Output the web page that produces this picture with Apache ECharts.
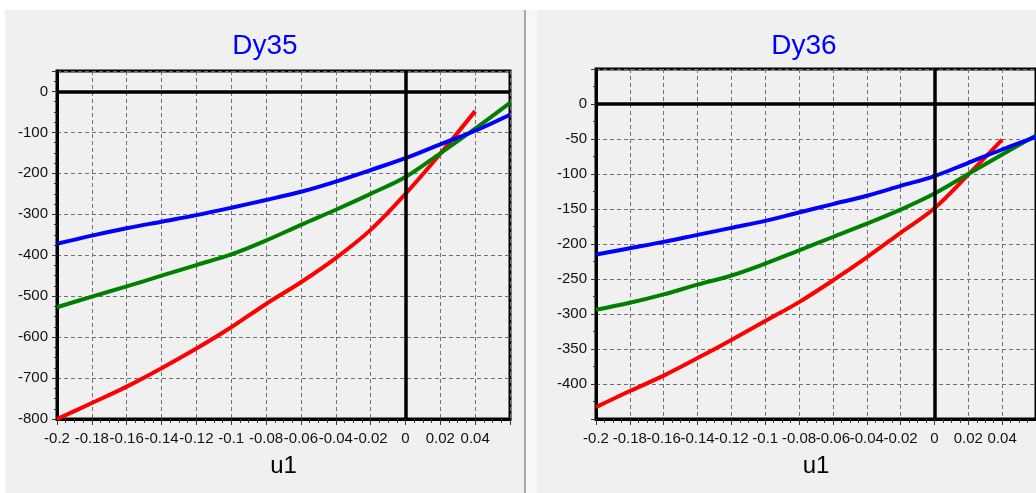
<!DOCTYPE html>
<html>
<head>
<meta charset="utf-8">
<script src="https://cdn.jsdelivr.net/npm/echarts@6/dist/echarts.min.js"></script>
<style>
html,body{margin:0;padding:0;background:#fff;}
#c{width:1036px;height:493px;}
</style>
</head>
<body>
<div id="c"></div>
<script>
// ---- data ----
const titles = ['Dy35', 'Dy36'];
const xName = 'u1';
const u1 = [-0.2, -0.18, -0.16, -0.14, -0.12, -0.1, -0.08, -0.06, -0.04, -0.02, 0, 0.02, 0.04, 0.06];

const dy35Red   = [-800, -761, -721, -676, -628, -576, -519, -466, -407, -338, -250, -152, -48, null];
const dy35Green = [-527, -501, -476, -450, -424, -398, -364, -326, -289, -250, -209, -151, -91, -28];
const dy35Blue  = [-372, -352, -334, -318, -302, -284, -265, -245, -220, -192, -163, -129, -96, -57];

const dy36Red   = [-433, -410, -388, -363, -337, -310, -283, -252, -219, -184, -149, -101, -51, null];
const dy36Green = [-294, -284, -272, -258, -245, -228, -209, -190, -171, -151, -128, -100, -72, -45];
const dy36Blue  = [-215, -206, -197, -187, -177, -167, -155, -143, -131, -117, -103, -84, -65, -47];

const yRange35 = {min: -800, max: 50, interval: 100};
const yRange36 = {min: -450, max: 50, interval: 50};
const xRange = {min: -0.2, max: 0.06, interval: 0.02};

const colors = {red: '#ff0000', green: '#008000', blue: '#0000ff'};

// ---- chart ----
const font = 'Arial, "Liberation Sans", sans-serif';
function pairs(ys){ return u1.map((x,i)=> ys[i]==null ? null : [x, ys[i]]).filter(p=>p); }

function xAxisCfg(gi){
  return {
    gridIndex: gi, type: 'value', min: xRange.min, max: xRange.max, interval: xRange.interval,
    name: xName, nameLocation: 'middle', nameGap: 35,
    nameTextStyle: {fontFamily: font, fontSize: 24, color: '#000'},
    axisLine: {show: true, onZero: false, lineStyle: {color: '#000', width: 3}},
    axisTick: {show: true, length: 6, lineStyle: {color: '#333'}},
    minorTick: {show: true, splitNumber: 4, length: 4, lineStyle: {color: '#333'}},
    axisLabel: {fontFamily: font, fontSize: 15, color: '#111', margin: 12, showMaxLabel: false,
      formatter: v => String(parseFloat(v.toFixed(2)))},
    splitLine: {show: true, lineStyle: {color: '#707070', width: 1, type: [4, 3]}}
  };
}
function yAxisCfg(gi, r, minor, hideMin){
  return {
    gridIndex: gi, type: 'value', min: r.min, max: r.max, interval: r.interval,
    axisLine: {show: true, onZero: false, lineStyle: {color: '#000', width: 3}},
    axisTick: {show: true, length: 5, lineStyle: {color: '#333'}},
    minorTick: {show: true, splitNumber: minor, length: 3, lineStyle: {color: '#333'}},
    axisLabel: {fontFamily: font, fontSize: 15, color: '#111', margin: 9,
      showMaxLabel: false, showMinLabel: !hideMin},
    splitLine: {show: true, lineStyle: {color: '#707070', width: 1, type: [4, 3]}}
  };
}
function lineSeries(gi, ys, color){
  return {type: 'line', xAxisIndex: gi, yAxisIndex: gi, data: pairs(ys), showSymbol: false,
    symbol: 'none', smooth: 0.35, lineStyle: {color: color, width: 4}, itemStyle: {color: color}, z: 3, silent: true,
    animation: false};
}
function zeroSeries(gi){
  return {type: 'line', xAxisIndex: gi, yAxisIndex: gi, data: [], z: 2, silent: true, animation: false,
    markLine: {silent: true, symbol: 'none', animation: false, label: {show: false},
      lineStyle: {color: '#000', width: 3.5, type: 'solid'},
      data: [{xAxis: 0}, {yAxis: 0}]}};
}

const chart = echarts.init(document.getElementById('c'), null, {renderer: 'canvas'});
chart.setOption({
  animation: false,
  backgroundColor: '#ffffff',
  graphic: [
    {type: 'rect', shape: {x: 5, y: 10, width: 519, height: 483}, style: {fill: '#f0f0f0'}, z: -10, silent: true},
    {type: 'rect', shape: {x: 524, y: 10, width: 2, height: 483}, style: {fill: '#a8a8a8'}, z: -10, silent: true},
    {type: 'rect', shape: {x: 526, y: 10, width: 11, height: 483}, style: {fill: '#f7f7f7'}, z: -10, silent: true},
    {type: 'rect', shape: {x: 537, y: 10, width: 499, height: 483}, style: {fill: '#f0f0f0'}, z: -10, silent: true}
  ],
  title: [
    {text: titles[0], left: 260, top: 27, textAlign: 'center',
      textStyle: {fontFamily: font, fontSize: 28, fontWeight: 'normal', color: '#0000ff'}},
    {text: titles[1], left: 799, top: 27, textAlign: 'center',
      textStyle: {fontFamily: font, fontSize: 28, fontWeight: 'normal', color: '#0000ff'}}
  ],
  grid: [
    {left: 57, top: 71, width: 453, height: 348, show: true, backgroundColor: '#f0f0f0', borderColor: '#000', borderWidth: 3},
    {left: 596, top: 69, width: 452, height: 350, show: true, backgroundColor: '#f0f0f0', borderColor: '#000', borderWidth: 3}
  ],
  xAxis: [xAxisCfg(0), xAxisCfg(1)],
  yAxis: [yAxisCfg(0, yRange35, 4, false), yAxisCfg(1, yRange36, 2, true)],
  series: [
    zeroSeries(0),
    lineSeries(0, dy35Red, colors.red),
    lineSeries(0, dy35Green, colors.green),
    lineSeries(0, dy35Blue, colors.blue),
    zeroSeries(1),
    lineSeries(1, dy36Red, colors.red),
    lineSeries(1, dy36Green, colors.green),
    lineSeries(1, dy36Blue, colors.blue)
  ]
});
</script>
</body>
</html>
